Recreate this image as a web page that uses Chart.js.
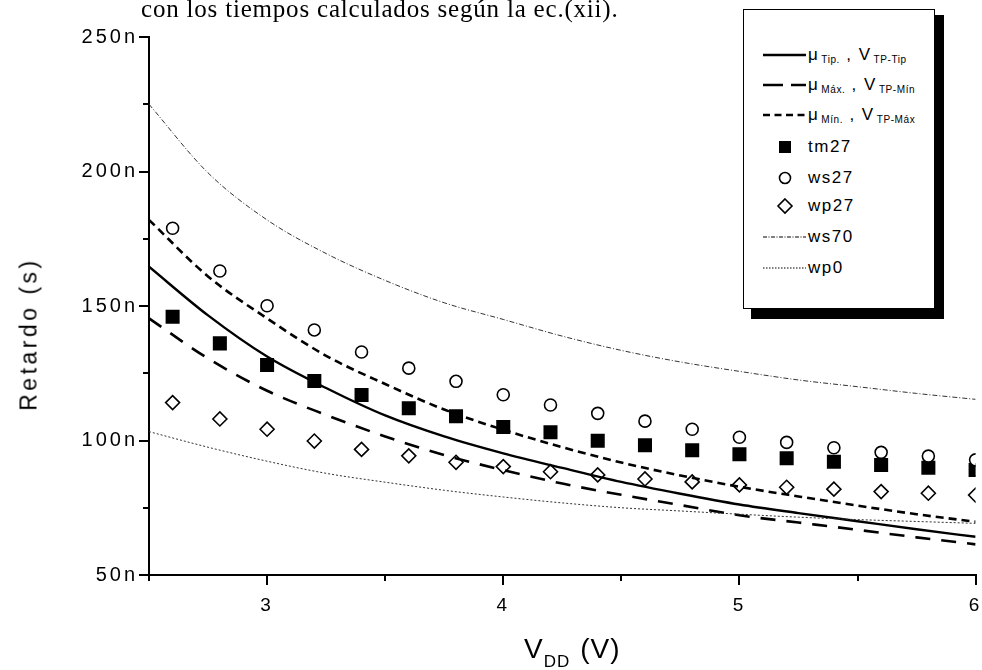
<!DOCTYPE html>
<html>
<head>
<meta charset="utf-8">
<script src="https://cdn.jsdelivr.net/npm/chart.js@4.4.1/dist/chart.umd.min.js"></script>
<style>
  body { margin: 0; background: #fff; }
  #wrap { position: relative; width: 982px; height: 670px; overflow: hidden; font-family: 'Liberation Sans', Arial, sans-serif; }
  #grafico { position: absolute; left: 0; top: 0; }
  .txt { position: absolute; white-space: nowrap; color: #000; }
  #titulo { left: 141px; top: -5px; font: 25px 'Liberation Serif', 'Times New Roman', serif; letter-spacing: 0.8px; }
  #ejeY { left: 29px; top: 334px; font-size: 23px; letter-spacing: 3.5px; transform: translate(-50%, -50%) rotate(-90deg); }
  #ejeX { left: 524px; top: 633px; font-size: 28px; letter-spacing: 1px; }
  #ejeX sub { font-size: 17px; vertical-align: -9px; margin-right: 10px; }
  #sombra { position: absolute; left: 751px; top: 15px; width: 193px; height: 304px; background: #000; }
  #leyenda { position: absolute; left: 743px; top: 9px; width: 192px; height: 300px; border: 1px solid #000; background: #fff; box-sizing: border-box; }
  .fila { position: absolute; left: 0; height: 20px; width: 190px; }
  .fila svg { position: absolute; left: 18px; top: 0; }
  .fila span { position: absolute; left: 64px; top: 0; line-height: 20px; font-size: 17px; letter-spacing: 1.5px; }
  .fila span sub { font-size: 10px; vertical-align: -3px; letter-spacing: 0.6px; margin-left: 2px; }
</style>
</head>
<body>
<div id="wrap">
  <canvas id="grafico" width="986" height="670"></canvas>
  <div class="txt" id="titulo">con los tiempos calculados según la ec.(xii).</div>
  <div class="txt" id="ejeY">Retardo (s)</div>
  <div class="txt" id="ejeX">V<sub>DD</sub>(V)</div>
  <div id="sombra"></div>
  <div id="leyenda"></div>
</div>
<script>
// Curvas calculadas (V_DD en V, retardo en ns)
const vdd = [2.5, 2.75, 3.0, 3.25, 3.5, 3.75, 4.0, 4.25, 4.5, 4.75, 5.0, 5.25, 5.5, 5.75, 6.0];
const tipico = [164.6, 146.5, 131.2, 119.5, 109.3, 101.5, 95.2, 89.8, 84.6, 80.2, 76.2, 73.0, 70.0, 67.0, 64.2];
const maximo = [145.4, 130.5, 118.5, 109.5, 101.5, 94.6, 89.0, 84.0, 79.8, 76.0, 72.2, 69.5, 66.8, 64.0, 61.4];
const minimo = [182.0, 161.0, 145.4, 131.5, 121.0, 111.5, 104.0, 97.5, 91.8, 87.0, 82.8, 79.2, 75.8, 72.6, 69.8];
const ws70 = [225.0, 199.5, 182.0, 169.5, 159.5, 151.2, 145.0, 138.8, 133.5, 129.2, 125.7, 122.5, 120.0, 117.5, 115.3];
const wp0 = [103.3, 97.5, 92.3, 87.8, 84.5, 81.5, 79.0, 76.8, 75.0, 73.8, 72.6, 71.5, 70.6, 69.9, 69.2];

// Medidas (simulaciones)
const vddMedida = [2.6, 2.8, 3.0, 3.2, 3.4, 3.6, 3.8, 4.0, 4.2, 4.4, 4.6, 4.8, 5.0, 5.2, 5.4, 5.6, 5.8, 6.0];
const tm27 = [146.0, 136.1, 128.1, 122.1, 116.9, 112.0, 109.0, 105.0, 103.1, 99.9, 98.2, 96.4, 94.9, 93.4, 92.1, 90.9, 89.9, 89.0];
const ws27 = [178.9, 163.0, 150.1, 141.1, 132.9, 126.9, 122.0, 117.0, 113.2, 110.1, 107.2, 104.2, 101.2, 99.3, 97.3, 95.6, 94.2, 92.8];
const wp27 = [114.1, 108.0, 104.2, 99.8, 96.7, 94.3, 91.9, 90.3, 88.4, 87.2, 85.7, 84.6, 83.5, 82.6, 81.9, 81.0, 80.4, 79.7];

// Ejes
const xTicks = [3, 4, 5, 6];
const yTicks = [50, 100, 150, 200, 250];
const yTickLabels = ['50n', '100n', '150n', '200n', '250n'];

const puntos = (xs, ys) => xs.map((x, i) => ({ x: x, y: ys[i] }));

function curva(label, ys, dash, width, color) {
    return {
        label: label,
        data: puntos(vdd, ys),
        showLine: true,
        borderColor: color,
        borderWidth: width,
        borderDash: dash,
        pointRadius: 0,
        cubicInterpolationMode: 'monotone',
        fill: false
    };
}

function marcas(label, ys, estilo, radio, relleno) {
    return {
        label: label,
        data: puntos(vddMedida, ys),
        showLine: false,
        pointStyle: estilo,
        pointRadius: radio,
        pointBackgroundColor: relleno,
        pointBorderColor: '#000',
        pointBorderWidth: 1.6
    };
}

// Espaciado de letras en las etiquetas de los ejes
const espaciado = {
    id: 'espaciado',
    beforeLayout(chart) { chart.ctx.letterSpacing = '3px'; },
    beforeDraw(chart) { chart.ctx.letterSpacing = '3px'; }
};

// Marcas menores de los ejes (más cortas que las principales)
const marcasMenores = {
    id: 'marcasMenores',
    afterDraw(chart) {
        const { ctx, scales } = chart;
        const x = scales.x, y = scales.y;
        ctx.save();
        ctx.strokeStyle = '#000';
        ctx.lineWidth = 2;
        ctx.beginPath();
        x.ticks.forEach(t => {
            if (!xTicks.includes(t.value)) {
                const px = Math.round(x.getPixelForValue(t.value));
                ctx.moveTo(px, y.bottom);
                ctx.lineTo(px, y.bottom + 6);
            }
        });
        y.ticks.forEach(t => {
            if (!yTicks.includes(t.value)) {
                const py = Math.round(y.getPixelForValue(t.value));
                ctx.moveTo(x.left, py);
                ctx.lineTo(x.left - 6, py);
            }
        });
        ctx.stroke();
        ctx.restore();
    }
};

const ctx = document.getElementById('grafico').getContext('2d');
new Chart(ctx, {
    type: 'scatter',
    data: {
        datasets: [
            curva('ws70', ws70, [5, 2, 1, 2], 1, '#333'),
            curva('wp0', wp0, [2, 2], 1, '#333'),
            curva('μMáx., VTP-Mín', maximo, [15, 11], 2.6, '#000'),
            curva('μMín., VTP-Máx', minimo, [8, 5], 2.6, '#000'),
            curva('μTip., VTP-Tip', tipico, [], 2.4, '#000'),
            marcas('wp27', wp27, 'rectRot', 7, '#fff'),
            marcas('ws27', ws27, 'circle', 6, '#fff'),
            marcas('tm27', tm27, 'rect', 8.8, '#000')
        ]
    },
    options: {
        responsive: false,
        animation: false,
        devicePixelRatio: 1,
        layout: { padding: { left: 0, right: 3, top: 37, bottom: 0 } },
        plugins: {
            legend: { display: false },
            tooltip: { enabled: false }
        },
        scales: {
            x: {
                type: 'linear',
                min: 2.5,
                max: 6,
                afterFit: scale => {
                    scale.height = 95;
                    scale.paddingLeft = 0;
                    scale.paddingRight = 0;
                },
                ticks: {
                    stepSize: 0.5,
                    autoSkip: false,
                    maxRotation: 0,
                    padding: 9,
                    color: '#000',
                    font: { size: 19 },
                    callback: v => xTicks.includes(v) ? String(v) : ''
                },
                grid: {
                    drawOnChartArea: false,
                    drawTicks: true,
                    tickLength: 10,
                    lineWidth: 2,
                    color: c => (c.tick && xTicks.includes(c.tick.value)) ? '#000' : 'rgba(0,0,0,0)'
                },
                border: { display: true, color: '#000', width: 2 }
            },
            y: {
                type: 'linear',
                min: 50,
                max: 250,
                afterFit: scale => {
                    scale.width = 149;
                    scale.paddingTop = 0;
                    scale.paddingBottom = 0;
                },
                ticks: {
                    stepSize: 25,
                    autoSkip: false,
                    padding: 1,
                    color: '#000',
                    font: { size: 20 },
                    callback: v => {
                        const i = yTicks.indexOf(v);
                        return i >= 0 ? yTickLabels[i] : '';
                    }
                },
                grid: {
                    drawOnChartArea: false,
                    drawTicks: true,
                    tickLength: 10,
                    lineWidth: 2,
                    color: c => (c.tick && yTicks.includes(c.tick.value)) ? '#000' : 'rgba(0,0,0,0)'
                },
                border: { display: true, color: '#000', width: 2 }
            }
        }
    },
    plugins: [espaciado, marcasMenores]
});

// Leyenda
const filasLeyenda = [
    { tipo: 'linea', dash: '', ancho: 2.4, texto: 'μ<sub>Tip.</sub> , V<sub>TP-Tip</sub>' },
    { tipo: 'linea', dash: '20 8', ancho: 2.6, texto: 'μ<sub>Máx.</sub> , V<sub>TP-Mín</sub>' },
    { tipo: 'linea', dash: '7 4.5', ancho: 2.6, texto: 'μ<sub>Mín.</sub> , V<sub>TP-Máx</sub>' },
    { tipo: 'cuadro', texto: 'tm27' },
    { tipo: 'circulo', texto: 'ws27' },
    { tipo: 'rombo', texto: 'wp27' },
    { tipo: 'linea', dash: '4 1.5 1 1.5', ancho: 1, texto: 'ws70' },
    { tipo: 'linea', dash: '1.5 1.5', ancho: 1, texto: 'wp0' }
];
const centrosY = [45, 75, 105, 137, 168, 196, 227, 258];

const leyenda = document.getElementById('leyenda');
filasLeyenda.forEach((f, i) => {
    const fila = document.createElement('div');
    fila.className = 'fila';
    fila.style.top = (centrosY[i] - 10) + 'px';
    let forma = '';
    if (f.tipo === 'linea') {
        forma = `<line x1="1" y1="10" x2="44" y2="10" stroke="#000" stroke-width="${f.ancho}" stroke-dasharray="${f.dash}"/>`;
    } else if (f.tipo === 'cuadro') {
        forma = '<rect x="17" y="4" width="12" height="12" fill="#000"/>';
    } else if (f.tipo === 'circulo') {
        forma = '<circle cx="23" cy="10" r="5.5" fill="#fff" stroke="#000" stroke-width="1.6"/>';
    } else {
        forma = '<polygon points="23,3 30,10 23,17 16,10" fill="#fff" stroke="#000" stroke-width="1.6"/>';
    }
    fila.innerHTML = `<svg width="46" height="20">${forma}</svg><span>${f.texto}</span>`;
    leyenda.appendChild(fila);
});
</script>
</body>
</html>
